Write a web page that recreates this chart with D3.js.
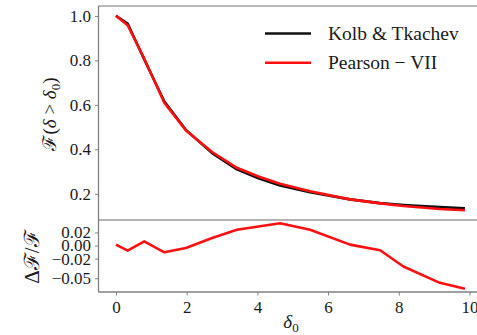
<!DOCTYPE html>
<html>
<head>
<meta charset="utf-8">
<script src="https://cdn.jsdelivr.net/npm/d3@7"></script>
<style>
  html, body { margin: 0; padding: 0; background: #fff; }
  svg { display: block; }
  text { font-family: "Liberation Serif", serif; fill: #1a1a1a; }
</style>
</head>
<body>
<svg id="chart" width="477" height="335"></svg>
<script>
// Threshold values delta_0
const delta0 = [0, 0.33, 0.8, 1.37, 1.98, 2.72, 3.42, 4.03, 4.64, 5.49, 6.62, 7.47, 8.13, 9.16, 9.87];
// Cumulative fraction F(delta > delta_0)
const kolbTkachev = [1.0, 0.966, 0.804, 0.615, 0.487, 0.383, 0.31, 0.27, 0.237, 0.207, 0.175, 0.158, 0.15, 0.14, 0.135];
const pearsonVII  = [1.001, 0.958, 0.809, 0.609, 0.485, 0.388, 0.317, 0.278, 0.245, 0.212, 0.175, 0.157, 0.145, 0.132, 0.126];
// Relative difference Delta F / F
const relDiff = [0.0014, -0.0078, 0.0064, -0.0103, -0.0037, 0.0116, 0.0242, 0.029, 0.034, 0.024, 0.0014, -0.0073, -0.032, -0.057, -0.066];

const xTicks = [0, 2, 4, 6, 8, 10];
const topTicks = [0.2, 0.4, 0.6, 0.8, 1.0];
const bottomTicks = [0.02, 0.0, -0.02, -0.05];
const seriesNames = ["Kolb & Tkachev", "Pearson \u2212 VII"];
const seriesColors = ["#111111", "#ff1010"];

const svg = d3.select("#chart");
const left = 98.5, right = 482.4;
const topY0 = 6, topY1 = 220, botY0 = 220, botY1 = 292;
const spine = "#808080";
const serif = "'Liberation Serif', serif";

function padded(vals) {
  const [lo, hi] = d3.extent(vals);
  const m = (hi - lo) * 0.05;
  return [lo - m, hi + m];
}

const x = d3.scaleLinear().domain(padded(delta0)).range([left, right]);
const yTop = d3.scaleLinear().domain(padded(kolbTkachev.concat(pearsonVII))).range([topY1, topY0]);
const yBot = d3.scaleLinear().domain(padded(relDiff)).range([botY1, botY0]);

const fmt = v => d3.format(".2f")(v).replace("-", "\u2212");

// Top panel axes
const gTopAxis = svg.append("g").attr("transform", `translate(${left},0)`)
  .call(d3.axisLeft(yTop).tickValues(topTicks).tickSize(3.5).tickPadding(4).tickFormat(d3.format(".1f")));
// Bottom panel axes
const gBotAxis = svg.append("g").attr("transform", `translate(${left},0)`)
  .call(d3.axisLeft(yBot).tickValues(bottomTicks).tickSize(3.5).tickPadding(4).tickFormat(fmt));
const gX = svg.append("g").attr("transform", `translate(0,${botY1})`)
  .call(d3.axisBottom(x).tickValues(xTicks).tickSize(3.5).tickPadding(5).tickFormat(d3.format("d")));

[gTopAxis, gBotAxis, gX].forEach(g => {
  g.attr("font-family", serif).attr("font-size", 17);
  g.select(".domain").remove();
  g.selectAll(".tick line").attr("stroke", spine).attr("stroke-width", 1);
  g.selectAll(".tick text").style("font-family", serif).style("font-size", "17px").attr("fill", "#1a1a1a");
});

// Frame lines
svg.append("line").attr("x1", left).attr("x2", 477).attr("y1", topY0).attr("y2", topY0)
  .attr("stroke", "#b8b8b8").attr("stroke-width", 2);
svg.append("line").attr("x1", left).attr("x2", 477).attr("y1", topY1).attr("y2", topY1)
  .attr("stroke", "#9a9a9a").attr("stroke-width", 1.3);
svg.append("line").attr("x1", left).attr("x2", 477).attr("y1", botY1).attr("y2", botY1)
  .attr("stroke", spine).attr("stroke-width", 1.3);
svg.append("line").attr("x1", left).attr("x2", left).attr("y1", topY0).attr("y2", botY1)
  .attr("stroke", spine).attr("stroke-width", 1.3);

// Curves
const lineTop = vals => d3.line().x((d, i) => x(delta0[i])).y(d => yTop(d))(vals);
svg.append("path").attr("d", lineTop(kolbTkachev)).attr("fill", "none")
  .attr("stroke", seriesColors[0]).attr("stroke-width", 2.6).attr("stroke-linejoin", "round");
svg.append("path").attr("d", lineTop(pearsonVII)).attr("fill", "none")
  .attr("stroke", seriesColors[1]).attr("stroke-width", 2.6).attr("stroke-linejoin", "round");

const lineBot = d3.line().x((d, i) => x(delta0[i])).y(d => yBot(d));
svg.append("path").attr("d", lineBot(relDiff)).attr("fill", "none")
  .attr("stroke", seriesColors[1]).attr("stroke-width", 2.6).attr("stroke-linejoin", "round");

// Legend
const legend = svg.append("g");
seriesNames.forEach((name, i) => {
  const ly = 33.5 + i * 29.3;
  legend.append("line").attr("x1", 265).attr("x2", 311).attr("y1", ly).attr("y2", ly)
    .attr("stroke", seriesColors[i]).attr("stroke-width", 2.6);
  legend.append("text").attr("x", 328).attr("y", ly + 6.5)
    .style("font-size", "19.5px").text(name);
});

// Axis titles
const yLabTop = svg.append("text")
  .attr("transform", `translate(56,${(topY0 + topY1) / 2 + 1}) rotate(-90)`)
  .attr("text-anchor", "middle").style("font-size", "19px");
yLabTop.append("tspan").text("\u2131(");
yLabTop.append("tspan").style("font-style", "italic").text("\u03b4");
yLabTop.append("tspan").text(" > ");
yLabTop.append("tspan").style("font-style", "italic").text("\u03b4");
yLabTop.append("tspan").attr("dy", 4).style("font-size", "13px").text("0");
yLabTop.append("tspan").attr("dy", -4).text(")");

const yLabBot = svg.append("text")
  .attr("transform", `translate(39,${(botY0 + botY1) / 2 + 1}) rotate(-90)`)
  .attr("text-anchor", "middle").style("font-size", "21px");
yLabBot.append("tspan").text("\u0394\u2131/\u2131");

const xLab = svg.append("text").attr("x", 291).attr("y", 328)
  .attr("text-anchor", "middle").style("font-size", "19px");
xLab.append("tspan").style("font-style", "italic").text("\u03b4");
xLab.append("tspan").attr("dy", 4).style("font-size", "13px").text("0");
</script>
</body>
</html>
